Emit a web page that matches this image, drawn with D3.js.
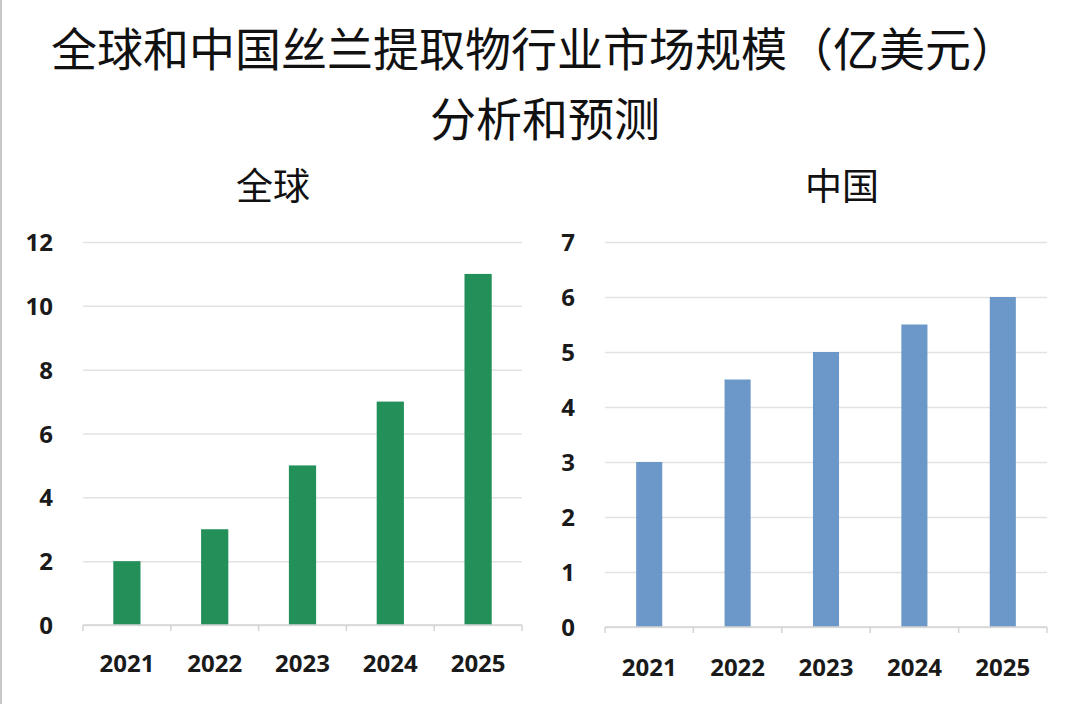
<!DOCTYPE html>
<html>
<head>
<meta charset="utf-8">
<script src="https://cdn.jsdelivr.net/npm/d3@7"></script>
<style>
  body { margin: 0; background: #fff; }
  svg { display: block; }
  .num { font-family: "Open Sans", Lato, sans-serif; font-weight: 700; font-size: 24px; fill: #1a1a1a; }
  .cjk { font-family: "Noto Sans CJK SC", sans-serif; fill: #111; }
</style>
</head>
<body>
<div id="chart"></div>
<script>
// data
var years = ["2021", "2022", "2023", "2024", "2025"];
var globalValues = [2, 3, 5, 7, 11];
var chinaValues = [3, 4.5, 5, 5.5, 6];
var globalTicks = [0, 2, 4, 6, 8, 10, 12];
var chinaTicks = [0, 1, 2, 3, 4, 5, 6, 7];

var titleLines = ["全球和中国丝兰提取物行业市场规模（亿美元）", "分析和预测"];
var panelTitles = ["全球", "中国"];

var w = 1080, h = 704;

var svg = d3.select("#chart").append("svg").attr("width", w).attr("height", h);

// faint frame at the left edge, like the cropped screenshot
svg.append("line").attr("x1", 1).attr("x2", 1).attr("y1", 0).attr("y2", h)
    .style("stroke", "#c8c8c8").style("stroke-width", 2);

svg.selectAll("text.title").data(titleLines).enter().append("text")
    .attr("class", "title cjk")
    .attr("x", function (d, i) { return i == 0 ? 534 : 545; })
    .attr("y", function (d, i) { return 49 + i * 70; })
    .attr("dy", "0.36em")
    .style("font-size", "46px").style("font-weight", 400)
    .style("text-anchor", "middle")
    .text(function (d) { return d; });

function drawPanel(opts) {
    var x = d3.scaleBand().domain(years).range([opts.left, opts.right])
        .paddingInner(opts.pad).paddingOuter(opts.pad / 2);
    var y = d3.scaleLinear().domain([0, d3.max(opts.ticks)]).range([opts.bottom, opts.top]);

    var g = svg.append("g");

    // gridlines + y labels
    var yAxis = g.append("g").attr("transform", "translate(" + opts.left + ",0)")
        .call(d3.axisLeft(y).tickValues(opts.ticks).tickSize(-(opts.right - opts.left)).tickPadding(30).tickFormat(d3.format("d")));
    yAxis.select(".domain").remove();
    yAxis.selectAll(".tick line").style("stroke", "#e2e2e2").style("stroke-width", 1.5);
    yAxis.selectAll(".tick text").attr("class", "num").attr("dy", "0.36em");

    // bars
    g.selectAll("rect.bar").data(opts.values).enter().append("rect")
        .attr("class", "bar")
        .attr("x", function (d, i) { return x(years[i]); })
        .attr("width", x.bandwidth())
        .attr("y", function (d) { return y(d); })
        .attr("height", function (d) { return y(0) - y(d); })
        .style("fill", opts.color);

    // x axis line with category boundary ticks
    g.append("line").attr("x1", opts.left).attr("x2", opts.right)
        .attr("y1", y(0)).attr("y2", y(0))
        .style("stroke", "#d4d4d4").style("stroke-width", 1.5);
    var bounds = d3.range(years.length + 1).map(function (i) { return opts.left + i * x.step(); });
    g.selectAll("line.tk").data(bounds).enter().append("line").attr("class", "tk")
        .attr("x1", function (d) { return d; }).attr("x2", function (d) { return d; })
        .attr("y1", y(0)).attr("y2", y(0) + 6)
        .style("stroke", "#d4d4d4").style("stroke-width", 1.5);

    var xAxis = g.append("g").attr("transform", "translate(0," + y(0) + ")")
        .call(d3.axisBottom(x).tickSize(0).tickPadding(0));
    xAxis.select(".domain").remove();
    xAxis.selectAll(".tick text").attr("class", "num").attr("y", opts.labelY - y(0)).attr("dy", "0.36em");

    g.append("text").attr("class", "cjk")
        .attr("x", opts.titleX).attr("y", 187).attr("dy", "0.36em")
        .style("font-size", "37px").style("text-anchor", "middle")
        .text(opts.title);
}

drawPanel({
    values: globalValues, ticks: globalTicks, title: panelTitles[0],
    left: 83, right: 522, top: 242, bottom: 625, pad: 0.69,
    color: "#23905a", labelY: 663, titleX: 273
});

drawPanel({
    values: chinaValues, ticks: chinaTicks, title: panelTitles[1],
    left: 605, right: 1047, top: 242, bottom: 627, pad: 0.705,
    color: "#6b98c9", labelY: 667, titleX: 842
});
</script>
</body>
</html>
